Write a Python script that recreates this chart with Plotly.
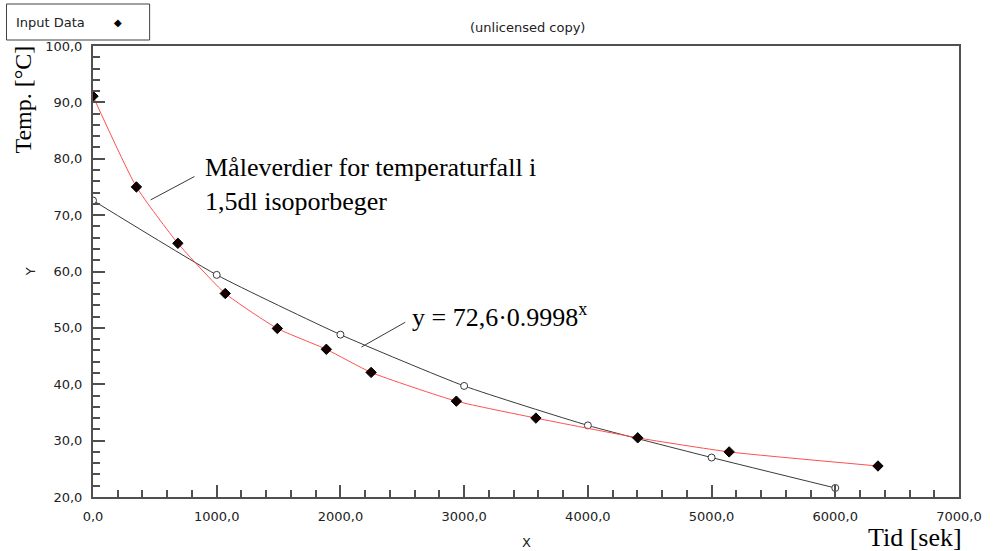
import plotly.graph_objects as go

# Measured cooling data: time [s] and temperature [°C]
tid_sek = [0, 351, 686, 1069, 1490, 1886, 2248, 2937, 3580, 4403, 5142, 6345]
temp_c = [91.1, 75.0, 65.0, 56.1, 49.9, 46.2, 42.1, 37.0, 34.0, 30.5, 28.0, 25.5]

# Exponential fit y = 72,6·0.9998^x evaluated at whole thousands
fit_x = [0, 1000, 2000, 3000, 4000, 5000, 6000]
fit_y = [72.6, 59.4, 48.8, 39.7, 32.7, 27.0, 21.6]

x_ticks = [0, 1000, 2000, 3000, 4000, 5000, 6000, 7000]
y_ticks = [20, 30, 40, 50, 60, 70, 80, 90, 100]

AXIS = "#505050"
SMALL = dict(family="DejaVu Sans", size=13, color="#222222")
SERIF = "Liberation Serif"

fig = go.Figure()

fig.add_trace(go.Scatter(
    x=fit_x, y=fit_y, mode="lines+markers",
    line=dict(color="#3a3a3a", width=1, shape="spline", smoothing=0.5),
    marker=dict(symbol="circle", size=7, color="white",
                line=dict(color="#3a3a3a", width=1)),
    showlegend=False, hoverinfo="skip"))

fig.add_trace(go.Scatter(
    x=tid_sek, y=temp_c, mode="lines+markers", name="Input Data",
    line=dict(color="#ff5050", width=1, shape="spline", smoothing=0.5),
    marker=dict(symbol="diamond", size=8, color="#140000",
                line=dict(color="black", width=1)),
    showlegend=False))

axis_common = dict(
    showline=True, linecolor=AXIS, linewidth=2, mirror=True,
    showgrid=False, zeroline=False, ticks="inside", ticklen=12,
    tickcolor=AXIS, tickwidth=2, tickfont=SMALL, tickformat=".1f")

fig.update_xaxes(range=[0, 7000], tickvals=x_ticks, ticklabelstandoff=6,
                 minor=dict(ticks="inside", ticklen=7, dtick=200,
                            tickcolor=AXIS, tickwidth=2),
                 **axis_common)
fig.update_yaxes(range=[20, 100], tickvals=y_ticks, ticklabelstandoff=6,
                 minor=dict(ticks="inside", ticklen=7, dtick=2,
                            tickcolor=AXIS, tickwidth=2),
                 **axis_common)

# Leader lines from the callouts to the curves
fig.add_shape(type="line", x0=466, y0=72.7, x1=820, y1=76.85,
              line=dict(color="#3a3a3a", width=1))
fig.add_shape(type="line", x0=2170, y0=46.6, x1=2524, y1=51.0,
              line=dict(color="#3a3a3a", width=1))

annotations = [
    dict(x=890, y=75.4, xref="x", yref="y", xanchor="left", yanchor="middle",
         align="left",
         text="Måleverdier for temperaturfall i<br>1,5dl isoporbeger",
         font=dict(family=SERIF, size=26, color="black")),
    dict(x=2560, y=52.2, xref="x", yref="y", xanchor="left", yanchor="middle",
         text="y = 72,6·0.9998<sup>x</sup>",
         font=dict(family=SERIF, size=26, color="black")),
    dict(x=-0.0804, y=0.882, xref="paper", yref="paper", textangle=-90,
         xanchor="center", yanchor="middle", text="Temp. [°C]",
         font=dict(family=SERIF, size=24, color="black")),
    dict(x=1.006, y=-0.089, xref="paper", yref="paper", xanchor="right",
         yanchor="middle", text="Tid [sek]",
         font=dict(family=SERIF, size=26, color="black")),
    dict(x=-0.072, y=0.50, xref="paper", yref="paper", textangle=-90,
         xanchor="center", yanchor="middle", text="Y", font=SMALL),
    dict(x=0.5, y=-0.1, xref="paper", yref="paper", xanchor="center",
         yanchor="middle", text="X", font=SMALL),
    dict(x=0.5017, y=1.04, xref="paper", yref="paper", xanchor="center",
         yanchor="middle", text="(unlicensed copy)", font=SMALL),
    # legend box contents
    dict(x=-0.0907, y=1.051, xref="paper", yref="paper", xanchor="left",
         yanchor="middle", text="Input Data", font=SMALL),
    dict(x=0.0287, y=1.052, xref="paper", yref="paper", xanchor="center",
         yanchor="middle", text="◆", font=dict(family="DejaVu Sans", size=10,
                                               color="black")),
]
for a in annotations:
    a["showarrow"] = False
    fig.add_annotation(**a)

fig.add_shape(type="rect", xref="paper", yref="paper",
              x0=-0.0999, x1=0.0654, y0=1.0133, y1=1.0931,
              line=dict(color="#404040", width=1), fillcolor="white")

fig.update_layout(
    width=994, height=551,
    margin=dict(l=93, r=30, t=46, b=54),
    paper_bgcolor="white", plot_bgcolor="white",
    separators=", ",
    showlegend=False,
)

fig.write_html("out.html")
